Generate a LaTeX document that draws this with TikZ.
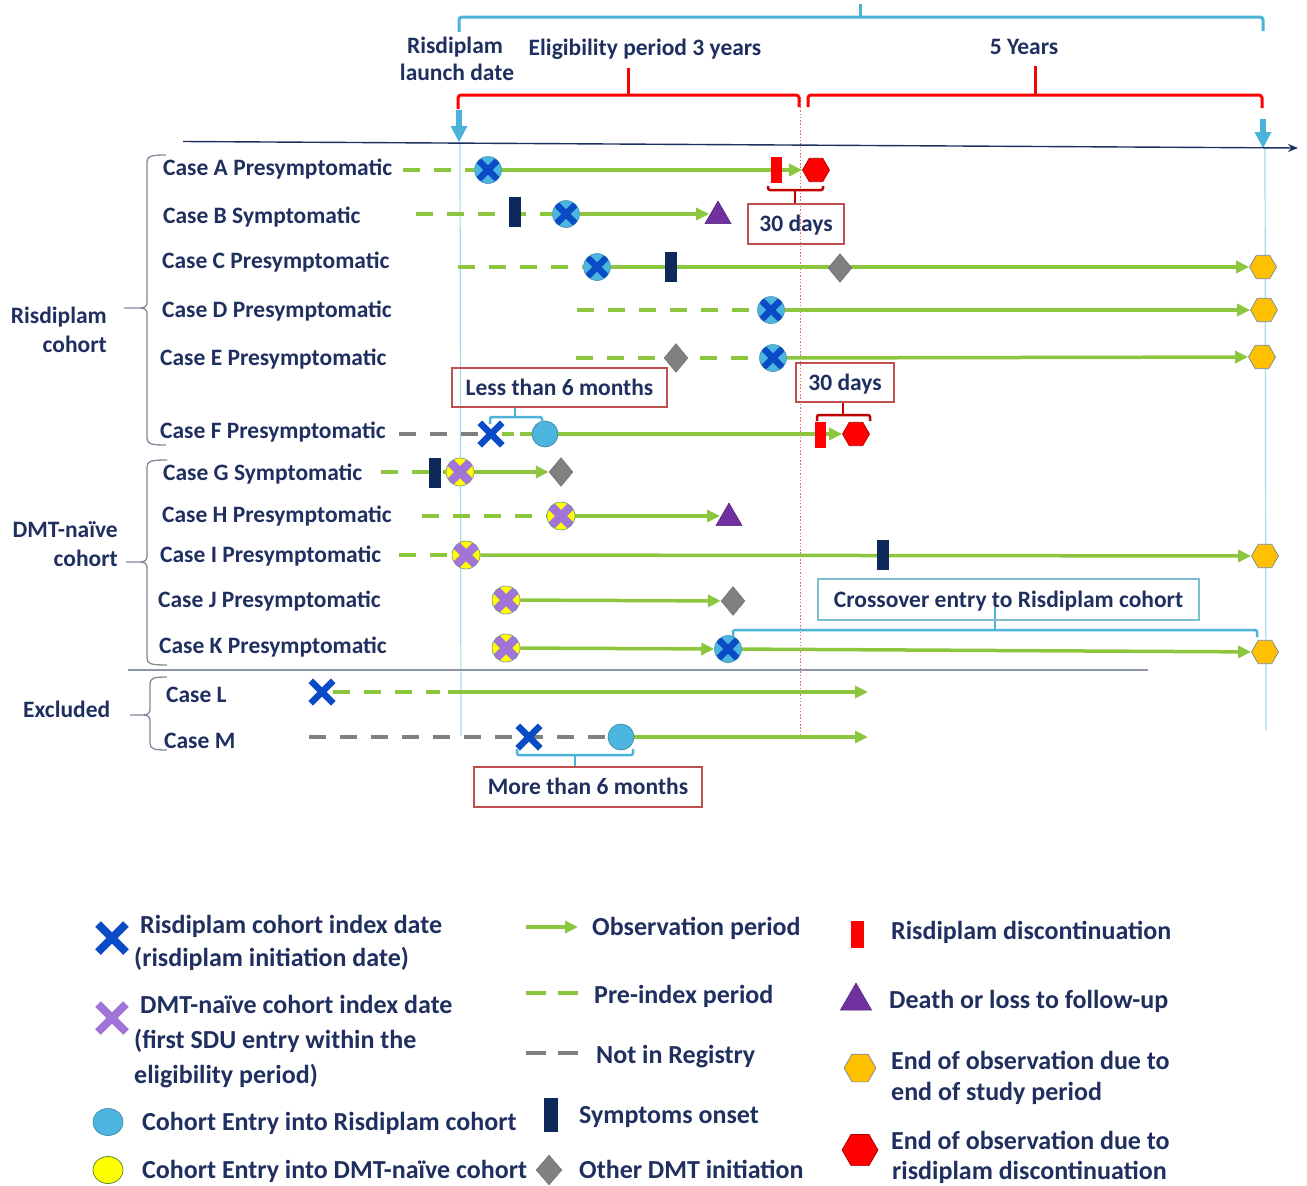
\documentclass[tikz,border=0pt]{standalone}
\usepackage{fontspec}
\setmainfont{Carlito}
\usetikzlibrary{arrows.meta,shapes.geometric,shapes.misc}
\definecolor{txt}{HTML}{1F2F5F}
\definecolor{grn}{HTML}{8CC63F}
\definecolor{cyn}{HTML}{4BB2DA}
\definecolor{cynfill}{HTML}{4DB6E0}
\definecolor{bluex}{HTML}{0A4BC6}
\definecolor{purx}{HTML}{A374D8}
\definecolor{ylw}{HTML}{FFFF00}
\definecolor{navy}{HTML}{0D2A5A}
\definecolor{dgray}{HTML}{808080}
\definecolor{trip}{HTML}{7030A0}
\definecolor{hexy}{HTML}{FFC000}
\definecolor{hexb}{HTML}{6F8A9E}
\definecolor{redc}{HTML}{FF0000}
\definecolor{boxred}{HTML}{C0504D}
\definecolor{brred}{HTML}{C00000}
\definecolor{boxcyn}{HTML}{7DBDD0}
\definecolor{guide}{HTML}{A8D8EA}
\definecolor{sepg}{HTML}{8C96A6}
\definecolor{brcg}{HTML}{7F8A9A}
\definecolor{dotred}{HTML}{E07070}
\pgfdeclarelayer{bg}
\pgfsetlayers{bg,main}
\newcommand\xarms[3]{\draw[#1,line width=#3pt] ([shift={(-#2,-#2)}]path picture bounding box.center) -- ([shift={(#2,#2)}]path picture bounding box.center) ([shift={(-#2,#2)}]path picture bounding box.center) -- ([shift={(#2,-#2)}]path picture bounding box.center);}
\newcommand\cbrace[6]{\draw[brc] (#6,#2) .. controls (#1+4,#2) and (#1,#2+1) .. (#1,#2+7) -- (#1,#3-6) .. controls (#1,#3-2) and (#1-2,#3) .. (#1-7,#3) -- (#5,#3) (#1-7,#3) .. controls (#1-2,#3) and (#1,#3+2) .. (#1,#3+6) -- (#1,#4-7) .. controls (#1,#4-1) and (#1+4,#4) .. (#6,#4);}
\newcommand\cyandownarrow[3]{\fill[cyn] (#1-2.8,#2) -- (#1+2.8,#2) -- (#1+2.8,#3-16) -- (#1+8.5,#3-16) -- (#1,#3) -- (#1-8.5,#3-16) -- (#1-2.8,#3-16) -- cycle;}
\begin{document}
\begin{tikzpicture}[x=1pt,y=-1pt,
  t23/.style={font=\fontsize{23.5}{28}\selectfont\bfseries, text=txt, inner sep=0pt, text height=15pt, text depth=0pt},
  t26/.style={font=\fontsize{26}{32}\selectfont\bfseries, text=txt, inner sep=0pt, text height=16.7pt, text depth=0pt, anchor=west},
  boxr/.style={t23, draw=boxred, line width=1.3pt},
  boxc/.style={t23, draw=boxcyn, line width=1.3pt},
  rx/.style={circle, minimum size=27pt, inner sep=0pt, fill=cynfill, draw=cynfill!75!black, line width=0.5pt, path picture={\xarms{bluex}{10}{6.5}}},
  dm/.style={circle, minimum size=28pt, inner sep=0pt, fill=ylw, draw=hexb, line width=0.6pt, path picture={\xarms{purx}{10}{8.5}}},
  bx/.style={cross out, draw=bluex, line width=6.5pt, minimum size=16pt, inner sep=0pt},
  cc/.style={circle, minimum size=26pt, inner sep=0pt, fill=cynfill, draw=cynfill!70!black, line width=0.6pt},
  sym/.style={rectangle, fill=navy, minimum width=12pt, minimum height=30pt, inner sep=0pt},
  rbar/.style={rectangle, fill=redc, minimum width=11pt, minimum height=26pt, inner sep=0pt},
  dmd/.style={diamond, fill=dgray, draw=dgray!85!black, line width=0.4pt, minimum width=24pt, minimum height=29pt, inner sep=0pt},
  yhex/.style={regular polygon, regular polygon sides=6, minimum size=27pt, inner sep=0pt, fill=hexy, draw=hexb, line width=0.7pt},
  rhex/.style={regular polygon, regular polygon sides=6, minimum size=27pt, inner sep=0pt, fill=redc, draw=red!70!black, line width=0.7pt},
  tri/.style={regular polygon, regular polygon sides=3, minimum size=30pt, inner sep=0pt, fill=trip, draw=trip!70!black, line width=0.5pt},
  obs/.style={grn, line width=3.5pt, -{Triangle[length=13pt,width=12pt]}},
  predash/.style={grn, line width=4.5pt, dash pattern=on 17pt off 14pt},
  notreg/.style={dgray, line width=4.5pt, dash pattern=on 17pt off 14pt},
  brc/.style={brcg, line width=1.3pt},
  cbr/.style={cyn, line width=3pt, rounded corners=3pt},
  rbr/.style={redc, line width=3pt, rounded corners=3pt},
  dbr/.style={brred, line width=2.5pt, rounded corners=2pt}
]
\useasboundingbox (0,0) rectangle (1307,1186);

% ---------- header ----------
\draw[cbr] (459,32) -- (459,17) -- (1263,17) -- (1263,31);
\draw[cbr] (860,4) -- (860,17);
\draw[rbr] (458,109) -- (458,95) -- (799,95) -- (799,107);
\draw[rbr] (628,68) -- (628,95);
\draw[rbr] (808,107) -- (808,95) -- (1262,95) -- (1262,108);
\draw[rbr] (1035,66) -- (1035,95);
\cyandownarrow{459}{110}{142}
\cyandownarrow{1263}{119}{148}
\draw[txt, line width=1.4pt, -{Stealth[length=10pt,width=8pt]}] (183,141.5) -- (1298,148);

\node[t23] (tLaunchA) at (455,45.5) {Risdiplam};
\node[t23] (tLaunchB) at (457,72.5) {launch date};
\node[t23] (tElig) at (645,47.5) {Eligibility period 3 years};
\node[t23] (tFive) at (1024,46.5) {5 Years};

% ---------- braces and cohort labels ----------
\cbrace{147}{155}{308}{445}{124}{166}
\cbrace{147}{460}{562}{665}{126}{167}
\cbrace{150}{677}{715}{750}{130}{167}
\node[t23, anchor=east] (cohRa) at (107,315.5) {Risdiplam};
\node[t23, anchor=east] (cohRb) at (107,344.5) {cohort};
\node[t23, anchor=east] (cohDa) at (118,530) {DMT-naïve};
\node[t23, anchor=east] (cohDb) at (118,558.5) {cohort};
\node[t23, anchor=west] (cohEx) at (23,710) {Excluded};

% ---------- case labels ----------
\node[t23, anchor=west] (lA) at (163,167.5) {Case A Presymptomatic};
\node[t23, anchor=west] (lB) at (163,215.5) {Case B Symptomatic};
\node[t23, anchor=west] (lC) at (162,260.5) {Case C Presymptomatic};
\node[t23, anchor=west] (lD) at (162,309.5) {Case D Presymptomatic};
\node[t23, anchor=west] (lE) at (160,357.5) {Case E Presymptomatic};
\node[t23, anchor=west] (lF) at (160,430.5) {Case F Presymptomatic};
\node[t23, anchor=west] (lG) at (163,473) {Case G Symptomatic};
\node[t23, anchor=west] (lH) at (162,514.5) {Case H Presymptomatic};
\node[t23, anchor=west] (lI) at (160,554.5) {Case I Presymptomatic};
\node[t23, anchor=west] (lJ) at (158,599.5) {Case J Presymptomatic};
\node[t23, anchor=west] (lK) at (159,645.5) {Case K Presymptomatic};
\node[t23, anchor=west] (lL) at (166,694.5) {Case L};
\node[t23, anchor=west] (lM) at (164,740.5) {Case M};

% ---------- markers ----------
% A
\coordinate (sA) at (403,170);
\node[rx] (xA) at (488,170) {};
\node[rbar] (dA) at (776,170) {};
\node[rhex] (eA) at (816,170) {};
% B
\coordinate (sB) at (416,214);
\node[sym] (oB) at (515,212) {};
\node[rx] (xB) at (566,214) {};
\node[tri] (tB) at (718,216) {};
% C
\coordinate (sC) at (458,267);
\node[rx] (xC) at (597,267) {};
\node[sym] (oC) at (671,267) {};
\node[dmd] (gC) at (840,268) {};
\node[yhex] (eC) at (1263,267) {};
% D
\coordinate (sD) at (577,310);
\node[rx] (xD) at (771,310) {};
\node[yhex] (eD) at (1264,310) {};
% E
\coordinate (sE) at (576,358);
\node[dmd] (gE) at (676,358) {};
\node[rx] (xE) at (773,358) {};
\node[yhex] (eE) at (1262,357) {};
% F
\coordinate (sF) at (399,434);
\node[bx] (xF) at (491,434) {};
\node[cc] (cF) at (545,434) {};
\node[rbar] (dF) at (820,435) {};
\node[rhex] (eF) at (856,434) {};
% G
\coordinate (sG) at (381,472);
\node[sym] (oG) at (435,473) {};
\node[dm] (mG) at (460,472) {};
\node[dmd] (gG) at (561,472) {};
% H
\coordinate (sH) at (422,516);
\node[dm] (mH) at (561,516) {};
\node[tri] (tH) at (729,518) {};
% I
\coordinate (sI) at (399,555);
\node[dm] (mI) at (466,555) {};
\node[sym] (oI) at (883,555) {};
\node[yhex] (eI) at (1265,556) {};
% J
\node[dm] (mJ) at (506,600) {};
\node[dmd] (gJ) at (733,601) {};
% K
\node[dm] (mK) at (506,648) {};
\node[rx] (xK) at (728,649) {};
\node[yhex] (eK) at (1265,652) {};
% L
\node[bx] (xL) at (322,692) {};
\coordinate (pL) at (440,692);
\coordinate (qL) at (448,692);
\coordinate (rL) at (868,692);
% M
\coordinate (sM) at (309,737);
\node[bx] (xM) at (529,737) {};
\node[cc] (cM) at (621,737) {};
\coordinate (rM) at (868,737);

% ---------- annotation boxes and brackets ----------
\node[boxr, minimum width=96pt, minimum height=40pt] (b30a) at (796,224) {30 days};
\draw[dbr] (768,186) -- (768,190) -- (823,190) -- (823,186);
\draw[dbr] (795,190) -- (b30a.north -| 795,0);
\node[boxr, minimum width=98pt, minimum height=39pt] (b30b) at (845,382.5) {30 days};
\draw[dbr] (817,421) -- (817,415) -- (870,415) -- (870,421);
\draw[dbr] (843,415) -- (b30b.south -| 843,0);
\node[boxr, minimum width=215pt, minimum height=39pt] (bLess) at (559.5,387.5) {Less than 6 months};
\draw[cyn, line width=2.5pt, rounded corners=2pt] (490,424) -- (490,417) -- (542,417) -- (542,424);
\draw[cyn, line width=2.5pt] (515,417) -- (bLess.south -| 515,0);
\node[boxc, minimum width=381pt, minimum height=41pt] (bCross) at (1008.5,599.5) {Crossover entry to Risdiplam cohort};
\node[boxr, minimum width=228pt, minimum height=40pt] (bMore) at (588,787) {More than 6 months};
\draw[cyn, line width=2.5pt, rounded corners=2pt] (517,749) -- (517,755) -- (633,755) -- (633,749);
\draw[cyn, line width=2.5pt] (575,755) -- (bMore.north -| 575,0);

% ---------- background lines ----------
\begin{pgfonlayer}{bg}
\draw[guide, line width=1.2pt] (460,142) -- (461,736);
\draw[guide, line width=1.2pt] (1265,148) -- (1266,730);
\draw[dotred, line width=0.9pt, dash pattern=on 1.5pt off 1.8pt] (800,97) -- (800,737);
\draw[sepg, line width=1.5pt] (128,670) -- (1148,670);
% A
\draw[predash] (sA) -- (xA);
\draw[obs] (xA) -- (eA);
% B
\draw[predash] (sB) -- (xB);
\draw[obs] (xB) -- (xB -| tB.west);
% C
\draw[predash] (sC) -- (xC);
\draw[obs] (xC) -- (eC);
% D
\draw[predash] (sD) -- (xD);
\draw[obs] (xD) -- (eD);
% E
\draw[predash] (sE) -- (xE);
\draw[obs] (xE) -- (eE);
% F
\draw[notreg] (sF) -- (xF);
\draw[predash, dash pattern=on 12pt off 6pt] (xF) -- (cF);
\draw[obs] (cF) -- (eF);
% G
\draw[predash] (sG) -- (mG);
\draw[obs] (mG) -- (gG);
% H
\draw[predash] (sH) -- (mH);
\draw[obs] (mH) -- (mH -| tH.west);
% I
\draw[predash] (sI) -- (mI);
\draw[obs] (mI) -- (eI);
% J
\draw[obs] (mJ) -- (gJ);
% K
\draw[obs] (mK) -- (xK);
\draw[obs] (xK) -- (eK);
\draw[cyn, line width=2.5pt, rounded corners=2pt] (733,640) -- (733,630) -- (1257,630) -- (1257,637);
\draw[cyn, line width=2.5pt] (995,630) -- (995,607);
% L
\draw[predash] (xL) -- (pL);
\draw[obs] (qL) -- (rL);
% M
\draw[notreg] (sM) -- (cM);
\draw[obs] (cM) -- (rM);
\end{pgfonlayer}

% ---------- legend ----------
\node[cross out, draw=bluex, line width=8pt, minimum size=20pt, inner sep=0pt] (kBx) at (112,938) {};
\node[t26] (kBxa) at (140,925) {Risdiplam cohort index date};
\node[t26] (kBxb) at (134,958) {(risdiplam initiation date)};
\node[cross out, draw=purx, line width=8pt, minimum size=20pt, inner sep=0pt] (kPx) at (112,1018) {};
\node[t26] (kPxa) at (140,1005) {DMT-naïve cohort index date};
\node[t26] (kPxb) at (134,1040) {(first SDU entry within the};
\node[t26] (kPxc) at (134,1075) {eligibility period)};
\node[ellipse, minimum width=30pt, minimum height=27pt, inner sep=0pt, fill=cynfill, draw=cynfill!70!black, line width=0.6pt] (kCc) at (108,1122) {};
\node[t26] (kCct) at (142,1122) {Cohort Entry into Risdiplam cohort};
\node[ellipse, minimum width=30pt, minimum height=27pt, inner sep=0pt, fill=ylw, draw=grn!70!black, line width=0.8pt] (kYc) at (108,1170) {};
\node[t26] (kYct) at (142,1170) {Cohort Entry into DMT-naïve cohort};

\coordinate (kO1) at (526,927);
\coordinate (kO2) at (578,927);
\draw[obs] (kO1) -- (kO2);
\node[t26] (kOt) at (592,927.5) {Observation period};
\coordinate (kP1) at (526,993);
\coordinate (kP2) at (578,993);
\draw[predash, dash pattern=on 20pt off 12pt] (kP1) -- (kP2);
\node[t26] (kPt) at (594,995) {Pre-index period};
\coordinate (kN1) at (526,1053);
\coordinate (kN2) at (578,1053);
\draw[notreg, dash pattern=on 20pt off 12pt] (kN1) -- (kN2);
\node[t26] (kNt) at (596,1055) {Not in Registry};
\node[sym, minimum width=14pt, minimum height=34pt] (kS) at (551,1115) {};
\node[t26] (kSt) at (579,1115) {Symptoms onset};
\node[dmd, minimum width=26pt, minimum height=30pt] (kD) at (549,1170) {};
\node[t26] (kDt) at (579,1170) {Other DMT initiation};

\node[rbar, minimum width=13pt, minimum height=27pt] (kR) at (857,934) {};
\node[t26] (kRt) at (891,931.5) {Risdiplam discontinuation};
\node[tri, minimum size=36pt] (kT) at (856,1001) {};
\node[t26] (kTt) at (889,1000.5) {Death or loss to follow-up};
\node[yhex, minimum size=32pt] (kH) at (860,1068) {};
\node[t26] (kHa) at (891,1061) {End of observation due to};
\node[t26] (kHb) at (891,1092.5) {end of study period};
\node[rhex, minimum size=36pt] (kX) at (860,1150) {};
\node[t26] (kXa) at (891,1141) {End of observation due to};
\node[t26] (kXb) at (892,1171) {risdiplam discontinuation};
\end{tikzpicture}
\end{document}
